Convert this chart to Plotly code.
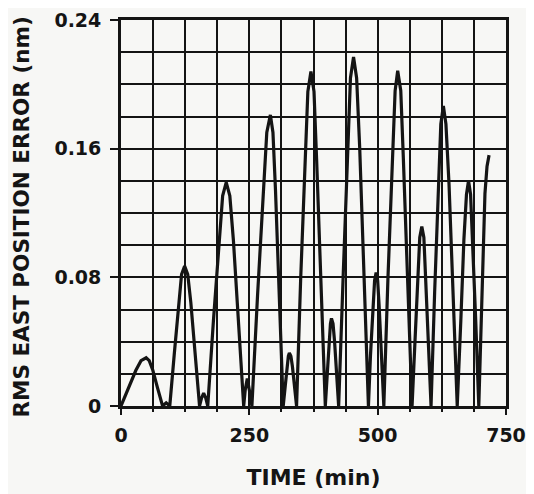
import plotly.graph_objects as go

# Time (min) and RMS east position error (nm)
time_min = [
    0, 15, 29, 39, 49, 55, 62, 71, 81,
    88, 95,
    104, 112, 118, 124, 130, 136, 144, 153,
    157, 161, 165, 169,
    180, 191, 198, 205, 212, 219, 229, 239,
    242, 246, 250, 255,
    266, 277, 284, 291, 296, 301, 308, 316,
    320, 323, 326, 328, 331, 334, 338, 342,
    350, 359, 364, 370, 376, 381, 390, 398,
    402, 405, 408, 410, 413, 416, 420, 424,
    433, 441, 447, 453, 459, 465, 473, 482,
    486, 491, 494, 497, 500, 503, 508, 512,
    520, 528, 534, 539, 545, 550, 559, 567,
    573, 578, 582, 586, 590, 593, 599, 604,
    611, 618, 623, 628, 633, 639, 647, 655,
    662, 668, 673, 677, 681, 685, 691, 697,
    703, 709, 713, 717,
]
rms_east_err = [
    0, 0.0114, 0.0222, 0.0282, 0.030, 0.0282, 0.0222, 0.0114, 0,
    0.002, 0,
    0.0331, 0.0644, 0.0818, 0.087, 0.0818, 0.0644, 0.0331, 0,
    0.005, 0.008, 0.005, 0,
    0.0528, 0.1029, 0.1307, 0.139, 0.1307, 0.1029, 0.0528, 0,
    0.010, 0.017, 0.010, 0,
    0.0688, 0.1339, 0.1701, 0.181, 0.1701, 0.1339, 0.0688, 0,
    0.0125, 0.0244, 0.031, 0.033, 0.031, 0.0244, 0.0125, 0,
    0.079, 0.1539, 0.1955, 0.208, 0.1955, 0.1539, 0.079, 0,
    0.0207, 0.0403, 0.0512, 0.0545, 0.0512, 0.0403, 0.0207, 0,
    0.0825, 0.1606, 0.204, 0.217, 0.204, 0.1606, 0.0825, 0,
    0.0315, 0.0614, 0.078, 0.083, 0.078, 0.0614, 0.0315, 0,
    0.0792, 0.1543, 0.196, 0.2085, 0.196, 0.1543, 0.0792, 0,
    0.0424, 0.0825, 0.1048, 0.1115, 0.1048, 0.0825, 0.0424, 0,
    0.0709, 0.138, 0.1753, 0.1865, 0.1753, 0.138, 0.0709, 0,
    0.0532, 0.1036, 0.1316, 0.14, 0.1316, 0.1036, 0.0532, 0,
    0.068, 0.132, 0.149, 0.156,
]

x_tick_vals = [0, 250, 500, 750]
x_tick_text = ["0", "250", "500", "750"]
y_tick_vals = [0, 0.08, 0.16, 0.24]
y_tick_text = ["0", "0.08", "0.16", "0.24"]
y_title = "RMS EAST POSITION ERROR (nm)"

INK = "#141414"
BG = "#f7f7f5"
FONT = "DejaVu Sans"

fig = go.Figure()
fig.add_trace(go.Scatter(
    x=time_min, y=rms_east_err, mode="lines",
    line=dict(color=INK, width=3.2),
    showlegend=False, hoverinfo="skip",
))

grid = dict(showgrid=True, gridcolor=INK, gridwidth=2.3)

# page body has an 8px default margin, so the figure is 8px smaller than the window
fig.update_layout(
    width=526, height=486,
    margin=dict(l=113, r=28, t=12, b=88),
    paper_bgcolor=BG, plot_bgcolor=BG,
    font=dict(family=FONT, color=INK, size=19, weight="bold"),
    xaxis=dict(
        range=[0, 750], tickvals=x_tick_vals, ticktext=x_tick_text,
        ticks="outside", ticklen=6, tickwidth=2, tickcolor=INK,
        showline=True, linecolor=INK, linewidth=2.8, mirror=True,
        zeroline=False, ticklabelstandoff=4, automargin=False,
        minor=dict(dtick=62.5, tick0=0, showgrid=True, gridcolor=INK, gridwidth=2.3,
                   ticks="outside", ticklen=3, tickcolor=INK),
        title=dict(text="TIME (min)", font=dict(size=22, family=FONT, weight="bold"), standoff=25),
        **grid,
    ),
    yaxis=dict(
        range=[0, 0.24], tickvals=y_tick_vals, ticktext=y_tick_text,
        ticks="outside", ticklen=8, tickwidth=2, tickcolor=INK,
        showline=True, linecolor=INK, linewidth=2.8, mirror=True,
        zeroline=False, ticklabelstandoff=5, automargin=False,
        minor=dict(dtick=0.02, tick0=0, showgrid=True, gridcolor=INK, gridwidth=2.3),
        **grid,
    ),
    annotations=[dict(
        text=y_title, textangle=-90, showarrow=False,
        xref="paper", yref="paper", x=-0.258, y=0.49,
        xanchor="center", yanchor="middle",
        font=dict(size=21.5, family=FONT, weight="bold", color=INK),
    )],
)

fig.write_html("out.html")
